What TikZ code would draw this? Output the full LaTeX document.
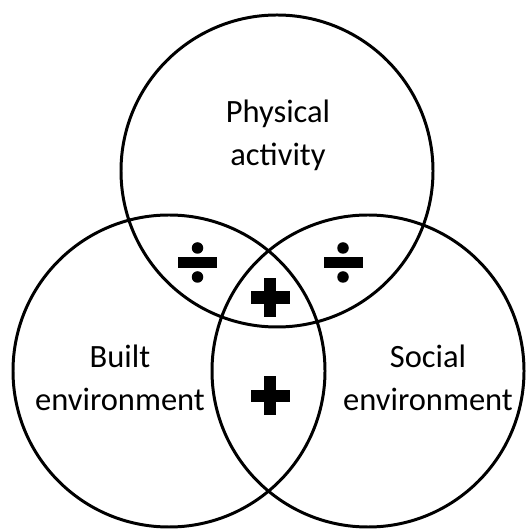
\documentclass[tikz,border=0pt]{standalone}
\usepackage{fontspec}
\setmainfont{Carlito}

\tikzset{
  ring/.style={line width=1.7pt},
  setname/.style={align=center,font=\fontsize{18.5pt}{24.5pt}\selectfont}
}

\begin{document}
\begin{tikzpicture}
  \useasboundingbox (0,0) rectangle (10.58,10.6);
  % the three sets
  \draw[ring] (5.54,7.18) circle (3.12);
  \draw[ring] (3.38,3.18) circle (3.12);
  \draw[ring] (7.36,3.18) circle (3.12);

  \node[setname] (pa) at (5.56,7.90) {Physical\\activity};
  \node[setname] (be) at (2.40,3.05) {Built\\environment};
  \node[setname] (se) at (8.56,3.05) {Social\\environment};

  % overlaps: division signs
  \foreach \x/\y in {3.95/5.35,6.86/5.35}{
    \fill (\x-0.39,\y-0.11) rectangle (\x+0.39,\y+0.11);
    \fill (\x,\y+0.29) circle (0.115);
    \fill (\x,\y-0.29) circle (0.115);
  }
  % overlaps: plus signs
  \foreach \y in {4.65,2.68}{
    \fill (5.40-0.39,\y-0.125) rectangle (5.40+0.39,\y+0.125);
    \fill (5.40-0.125,\y-0.39) rectangle (5.40+0.125,\y+0.39);
  }
\end{tikzpicture}
\end{document}
